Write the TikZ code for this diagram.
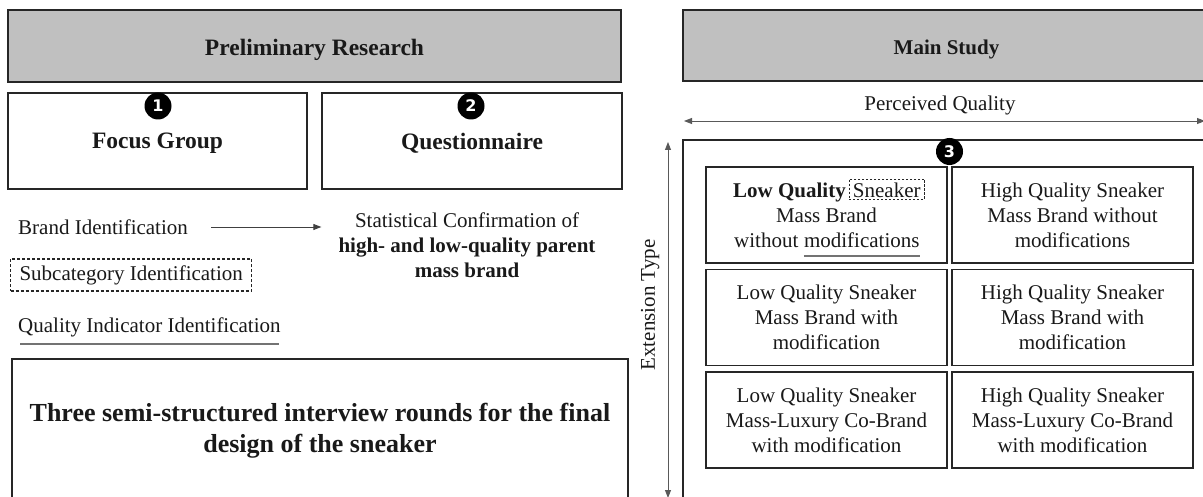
\documentclass[tikz,border=0pt]{standalone}
\usepackage{fontspec}
\setmainfont{Liberation Serif}
\newfontfamily\badgefont{DejaVu Sans}
\usetikzlibrary{arrows.meta,calc}
\definecolor{graybg}{RGB}{192,192,192}
\newcommand\fA{\fontsize{21}{25}\selectfont}
\newcommand\fB{\fontsize{23.5}{28}\selectfont\bfseries}
\newcommand\fC{\fontsize{26}{31}\selectfont\bfseries}
\begin{document}
\begin{tikzpicture}[x=1pt,y=-1pt,
  txt/.style={inner sep=0pt, font=\fA, text=black!90},
  graybox/.style={draw=black!85, line width=1.5pt, fill=graybg, inner sep=0pt, text=black!90},
  wbox/.style={draw=black!85, line width=1.5pt, inner sep=0pt, text=black!90},
  hlabel/.style={inner sep=0pt, text=black!90, text depth=0pt},
  badge/.style={circle, fill=black, text=white, minimum size=27pt, inner sep=0pt, font=\badgefont\bfseries\fontsize{16}{16}\selectfont},
  arr/.style={line width=0.9pt, draw=black!75, -{Triangle[length=8pt,width=6pt]}},
  darr/.style={line width=0.9pt, draw=black!65, {Triangle[length=8pt,width=6pt]}-{Triangle[length=8pt,width=6pt]}},
  cell/.style={draw=black!85, line width=1.5pt, minimum width=241pt, minimum height=96pt, inner sep=0pt, align=center, font=\fA, text=black!90},
  uline/.style={draw=black!55, line width=1.3pt}
]
\useasboundingbox[fill=white] (0,0) rectangle (1203,497);

% ---------- Preliminary research ----------
\node[graybox, minimum width=613pt, minimum height=72pt] (prelim) at (314.5,46) {};
\node[hlabel, font=\fB] (prelimT) at (314.5,47) {Preliminary Research};
\node[wbox, minimum width=299pt, minimum height=96pt] (focus) at (157.5,141) {};
\node[hlabel, font=\fB] (focusT) at (157.5,141) {Focus Group};
\node[wbox, minimum width=300pt, minimum height=96pt] (quest) at (472,141) {};
\node[hlabel, font=\fB] (questT) at (472,141) {Questionnaire};
\node[badge] (b1) at (158,106) {1};
\node[badge] (b2) at (471,106) {2};

\node[txt, anchor=west] (brand) at (18,227) {Brand Identification};
\node[txt, align=center] (stat) at (467,245) {Statistical Confirmation of\\\textbf{high- and low-quality parent}\\\textbf{mass brand}};
\draw[arr, shorten <=23pt] (brand.east) -- ([xshift=-17pt]brand.east -| stat.west);

\node[txt, anchor=west, draw=black!85, line width=1.1pt, dash pattern=on 3pt off 2pt,
      inner xsep=9pt, minimum height=32pt] (subcat) at (10,275) {Subcategory Identification};

\node[txt, anchor=west] (qual) at (18,327) {Quality Indicator Identification};
\draw[uline, line width=1.6pt] ([xshift=2pt,yshift=-7pt]qual.south west) -- ([xshift=-2pt,yshift=-7pt]qual.south east);

\draw[draw=black!85, line width=1.5pt] (12,359) rectangle (628,515);
\node[inner sep=0pt, font=\fC, align=center, text=black!90] (three) at (320,431) {Three semi-structured interview rounds for the final\\design of the sneaker};

% ---------- Main study ----------
\node[graybox, minimum width=527pt, minimum height=71pt] (mainst) at (946.5,45.5) {};
\node[hlabel, font=\fA\bfseries] (mainT) at (946.5,47) {Main Study};
\node[hlabel, font=\fA] (pq) at (940,103) {Perceived Quality};
\coordinate (pqL) at (684,121);
\coordinate (pqR) at (1205,121);
\draw[darr] (pqL) -- (pqR);

\draw[draw=black!85, line width=1.5pt] (683,140) rectangle (1215,515);
\coordinate (etT) at (668,142);
\coordinate (etB) at (668,498);
\draw[darr] (etB) -- (etT);
\node[hlabel, font=\fA, rotate=90] (et) at (648,305) {Extension Type};

% cells
\node[cell] (c11) at (826.5,215) {};
\node[cell] (c12) at (1072.5,215) {High Quality Sneaker\\Mass Brand without\\modifications};
\node[cell] (c21) at (826.5,317.5) {Low Quality Sneaker\\Mass Brand with\\modification};
\node[cell] (c22) at (1072.5,317.5) {High Quality Sneaker\\Mass Brand with\\modification};
\node[cell] (c31) at (826.5,420) {Low Quality Sneaker\\Mass-Luxury Co-Brand\\with modification};
\node[cell] (c32) at (1072.5,420) {High Quality Sneaker\\Mass-Luxury Co-Brand\\with modification};

\node[badge] (b3) at (949.5,151.5) {3};

% first cell text
\node[txt, anchor=base west, font=\fA\bfseries] (lq) at (733,198) {Low Quality};
\node[txt, anchor=base west, draw=black!85, line width=0.9pt, dash pattern=on 2.5pt off 1.5pt,
      inner xsep=4pt, inner ysep=1pt, text height=18pt, text depth=0pt] (snk) at ([xshift=2.5pt]lq.base east) {Sneaker};
\node[txt, anchor=base] (mb) at (826.5,223) {Mass Brand};
\node[txt, anchor=base west] (wo) at (734,248) {without};
\node[txt, anchor=base west] (mods) at ([xshift=5.25pt]wo.base east) {modifications};
\draw[uline] ([yshift=-8pt]mods.base west) -- ([yshift=-8pt]mods.base east);
\end{tikzpicture}
\end{document}
